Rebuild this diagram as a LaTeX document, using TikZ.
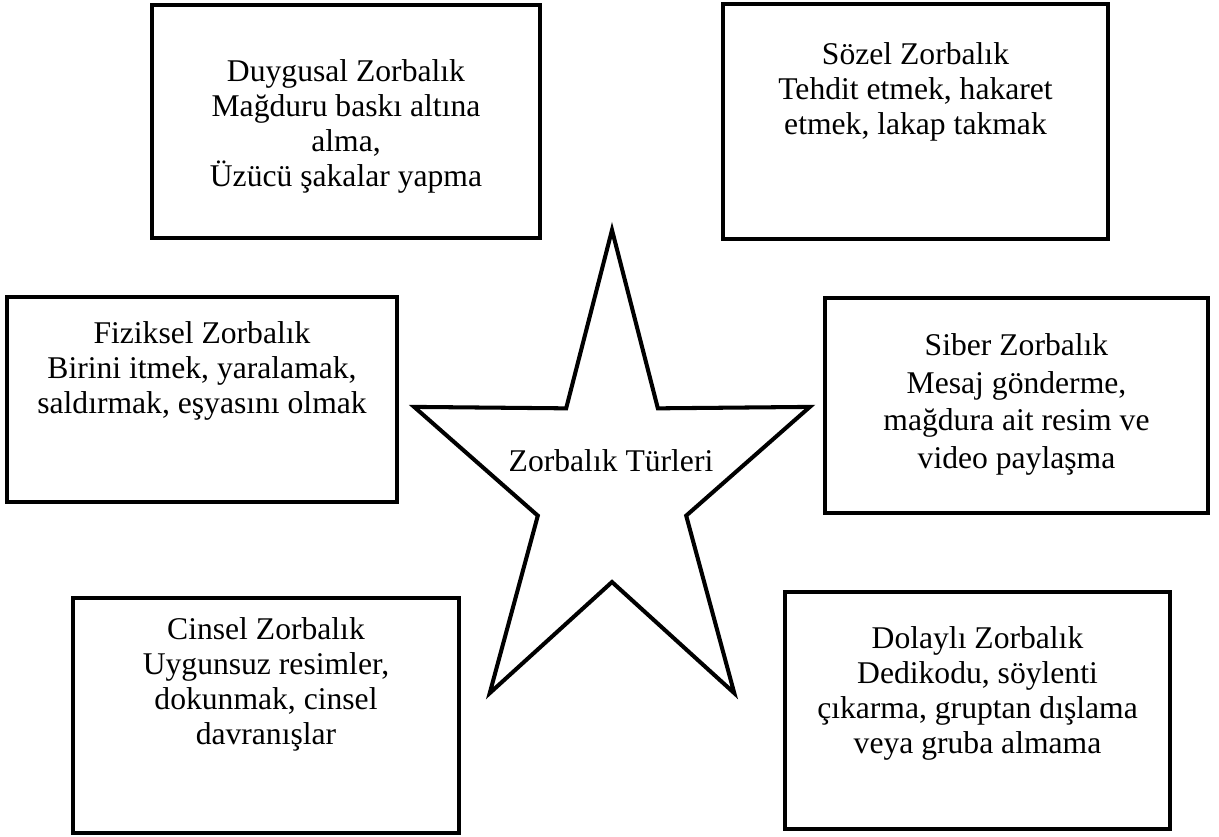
\documentclass[tikz,border=0pt]{standalone}
\usepackage{fontspec}
\setmainfont{Liberation Serif}
\usetikzlibrary{positioning}

\tikzset{
  zbox/.style={draw, line width=2.3pt, inner sep=0pt},
  ztext/.style={align=center, inner sep=0pt, font=\fontsize{18}{19.9}\selectfont},
  zstar/.style={draw, line width=2.3pt},
}

\begin{document}
\begin{tikzpicture}[x=0.02cm, y=-0.02cm]
    \useasboundingbox (0,0) rectangle (1219,836);

    \node (duygusal) [zbox, minimum width=7.76cm, minimum height=4.66cm] at (346,121.5) {};
    \node (sozel) [zbox, minimum width=7.70cm, minimum height=4.70cm] at (915.5,121.5) {};
    \node (fiziksel) [zbox, minimum width=7.80cm, minimum height=4.10cm] at (202,399.5) {};
    \node (siber) [zbox, minimum width=7.66cm, minimum height=4.30cm] at (1016.5,405.5) {};
    \node (cinsel) [zbox, minimum width=7.72cm, minimum height=4.70cm] at (266,715.5) {};
    \node (dolayli) [zbox, minimum width=7.70cm, minimum height=4.74cm] at (977.5,710.5) {};

    \node (duygusalT) [ztext, below=1.12cm of duygusal.north] {Duygusal Zorbalık\\Mağduru baskı altına\\alma,\\Üzücü şakalar yapma};
    \node (sozelT) [ztext, below=0.80cm of sozel.north] {Sözel Zorbalık\\Tehdit etmek, hakaret\\etmek, lakap takmak};
    \node (fizikselT) [ztext, below=0.52cm of fiziksel.north] {Fiziksel Zorbalık\\Birini itmek, yaralamak,\\saldırmak, eşyasını olmak};
    \node (siberT) [ztext, font=\fontsize{18}{21.3}\selectfont, below=0.75cm of siber.north] {Siber Zorbalık\\Mesaj gönderme,\\mağdura ait resim ve\\video paylaşma};
    \node (cinselT) [ztext, below=0.42cm of cinsel.north] {Cinsel Zorbalık\\Uygunsuz resimler,\\dokunmak, cinsel\\davranışlar};
    \node (dolayliT) [ztext, below=0.73cm of dolayli.north] {Dolaylı Zorbalık\\Dedikodu, söylenti\\çıkarma, gruptan dışlama\\veya gruba almama};

    % star in the middle
    \draw [zstar] (612,230)
      \foreach \i in {0,...,4} {
        -- ({612+78*cos(126+72*\i)},{486-96*sin(126+72*\i)})
        -- ({612+208*cos(162+72*\i)},{486-256*sin(162+72*\i)})
      } -- cycle;
    \node (turler) [anchor=base, inner sep=0pt, font=\fontsize{18}{19.9}\selectfont] at (611,471.7) {Zorbalık Türleri};
\end{tikzpicture}
\end{document}
